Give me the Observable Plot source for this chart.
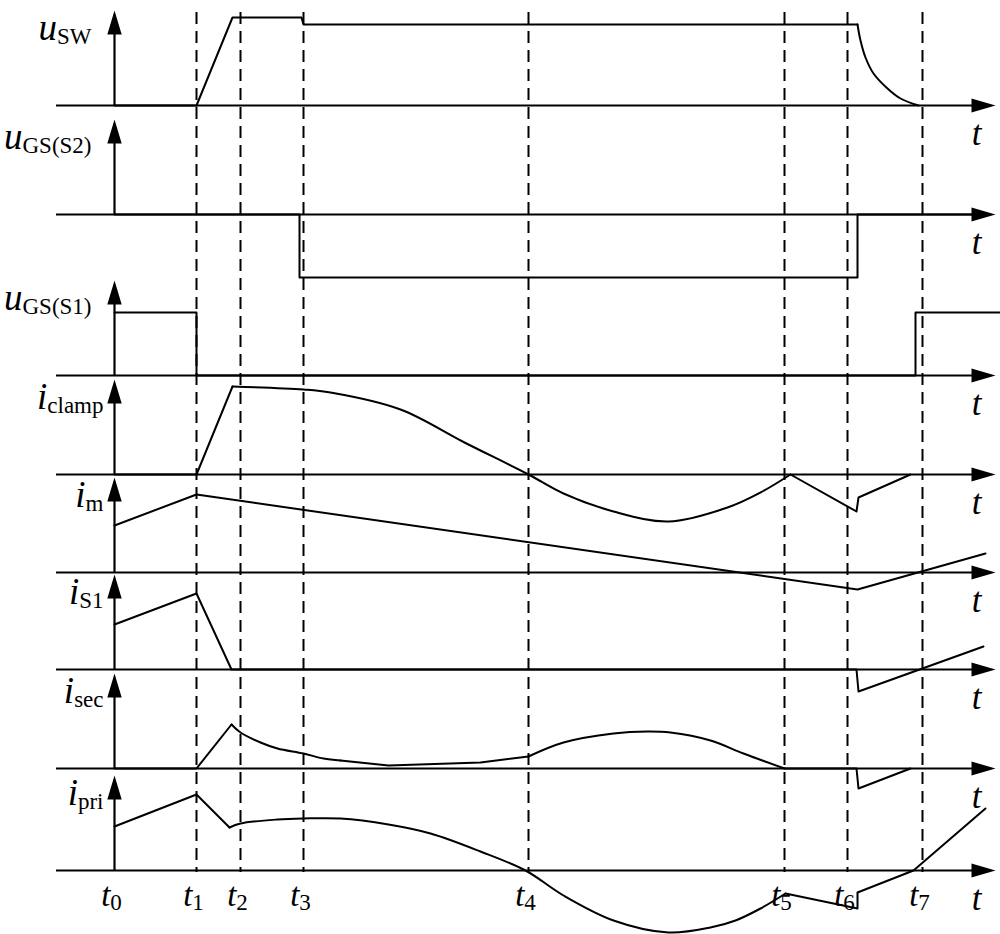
<!DOCTYPE html>
<html><head><meta charset="utf-8">
<script src="https://cdn.jsdelivr.net/npm/d3@7"></script>
<script src="https://cdn.jsdelivr.net/npm/@observablehq/plot@0.6"></script>
<style>body{margin:0;background:#fff}</style>
</head><body><div id="chart"></div>
<script>
// ---------- data (time in arbitrary units, t0 = 0; values upward positive) ----------
const tickNames = ["t_0","t_1","t_2","t_3","t_4","t_5","t_6","t_7"];
const tickTimes = [0, 8.2, 12.6, 18.9, 41.4, 67.0, 73.3, 80.8];
const panelNames = ["u_SW","u_GS(S2)","u_GS(S1)","i_clamp","i_m","i_S1","i_sec","i_pri"];

const uSW       = [[0,0],[8.2,0],[11.8,88],[18.7,88],[18.9,81],[74.3,81]];
const uSWDecay  = [[74.3,81],[74.6,65],[75.1,48],[75.9,32],[77.3,17],[78.6,7],[80.4,0]];
const uGS2      = [[0,0],[18.5,0],[18.5,-63],[74.3,-63],[74.3,0],[86,0]];
const uGS1      = [[0,63],[8.2,63],[8.2,0],[80.1,0],[80.1,63],[88.6,63]];
const iClamp      = [[0,0],[8.2,0],[11.8,88]];
const iClampCurve = [[11.8,88],[18.9,85],[21.6,82],[28.6,65],[35,32],[41.4,0],[44.9,-19],[49.9,-37],[55.4,-47],[61.3,-33],[64.6,-18],[67.6,0]];
const iClampTail  = [[67.6,0],[74.2,-37],[74.4,-23],[79.6,0]];
const iM        = [[0,47],[8.2,78],[74.3,-17],[87.1,19]];
const iS1       = [[0,45],[8.2,76],[11.7,0],[74.2,0],[74.4,-22],[86.9,23]];
const iSec      = [[0,0],[8.2,0],[11.7,44]];
const iSecDecay = [[11.7,44],[12.6,36],[14.6,26],[16.3,20],[18.9,15],[20.9,10],[22.6,8]];
const iSecMid   = [[22.6,8],[27.4,3],[36.6,6],[41.4,12]];
const iSecHump  = [[41.4,12],[44.9,26],[49.9,35],[53.3,37],[55.6,36],[59.6,28],[62.9,15],[67,0]];
const iSecTail  = [[67,0],[74.2,0],[74.4,-20],[79.6,0]];
const iPri      = [[0,44],[8.2,76],[11.5,43]];
const iPriCurve = [[11.5,43],[12.6,47],[16.3,51],[18.9,52],[22.6,52],[27.4,46],[31.6,37],[36.6,19],[41.1,0],[44.9,-25],[49.9,-50],[55.4,-62],[59.6,-57],[62.1,-50],[64.6,-38],[67.1,-23]];
const iPriTail  = [[67.1,-23],[74.3,-38],[74.3,-22],[79.9,0],[87.1,62]];

// ---------- layout ----------
const W = 1000, H = 934;
const baselines = [105, 214, 375, 474, 572, 669, 768, 870];
const axisStart = -5.8, axisEnd = 86.0, arrowTip = 88.1;
const vArrow = 95;

const straight = [
  [0, uSW], [1, uGS2], [2, uGS1], [3, iClamp], [3, iClampTail], [4, iM], [5, iS1],
  [6, iSec], [6, iSecMid], [6, iSecTail], [7, iPri], [7, iPriTail]
];
const smooth = [
  [0, uSWDecay], [3, iClampCurve], [6, iSecDecay], [6, iSecHump], [7, iPriCurve]
];
function toRows(list) {
  const rows = [];
  list.forEach(([p, arr], k) => arr.forEach(([t, v]) => rows.push({t, y: baselines[p] - v, id: k})));
  return rows;
}
const straightRows = toRows(straight);
const smoothRows = toRows(smooth);

const heads = [];
baselines.forEach((b, i) => {
  const tip = b - vArrow;
  [[-0.72, tip + 24], [0, tip], [0.72, tip + 24]].forEach(([t, y]) => heads.push({t, y, id: "v" + i}));
  [[arrowTip - 2.4, b - 7], [arrowTip, b], [arrowTip - 2.4, b + 7]].forEach(([t, y]) => heads.push({t, y, id: "h" + i}));
});

const font = "Liberation Serif, Times New Roman, serif";

const plot = Plot.plot({
  width: W, height: H,
  margin: 0, marginTop: 0, marginBottom: 0, marginLeft: 0, marginRight: 0,
  x: {domain: [-11.4, 88.6], range: [0, W], axis: null},
  y: {domain: [0, H], range: [0, H], axis: null},
  style: {background: "#fff", color: "#000"},
  marks: [
    Plot.ruleX(tickTimes.slice(1), {x: d => d, y1: 12, y2: 872, stroke: "#000", strokeWidth: 2, strokeDasharray: "12,7"}),
    Plot.ruleY(baselines, {y: d => d, x1: axisStart, x2: axisEnd, stroke: "#000", strokeWidth: 2.2}),
    Plot.ruleX(baselines, {x: 0, y1: d => d, y2: d => d - vArrow + 12, stroke: "#000", strokeWidth: 2.2}),
    Plot.line(heads, {x: "t", y: "y", z: "id", fill: "#000", stroke: "none"}),
    Plot.line(straightRows, {x: "t", y: "y", z: "id", stroke: "#000", strokeWidth: 2, strokeLinecap: "round", strokeLinejoin: "round"}),
    Plot.line(smoothRows, {x: "t", y: "y", z: "id", curve: "catmull-rom", stroke: "#000", strokeWidth: 2, strokeLinecap: "round"}),
    Plot.text(panelNames, {
      x: 0, y: (d, i) => baselines[i] - 66, text: d => d,
      textAnchor: "end", lineAnchor: "bottom",
      fontSize: 37, fontFamily: font, fontStyle: "italic", fill: "#000"
    }),
    Plot.text(baselines, {
      x: 86.2, y: d => d + 39, text: d => "t", textAnchor: "middle", lineAnchor: "bottom",
      fontSize: 35, fontFamily: font, fontStyle: "italic", fill: "#000"
    }),
    Plot.text(tickNames, {
      x: (d, i) => tickTimes[i], y: 905, text: d => d, dx: -3, textAnchor: "middle", lineAnchor: "bottom",
      fontSize: 33, fontFamily: font, fontStyle: "italic", fill: "#000"
    })
  ]
});
document.getElementById("chart").appendChild(plot);

const svgNS = "http://www.w3.org/2000/svg";
plot.querySelectorAll("text").forEach(el => {
  const s = el.textContent;
  const k = s.indexOf("_");
  if (k < 0) return;
  const main = s.slice(0, k), sub = s.slice(k + 1);
  el.textContent = "";
  const a = document.createElementNS(svgNS, "tspan");
  a.textContent = main;
  const b = document.createElementNS(svgNS, "tspan");
  b.textContent = sub;
  b.setAttribute("font-style", "normal");
  b.setAttribute("font-size", "23");
  b.setAttribute("dy", "4");
  el.appendChild(a); el.appendChild(b);
  if (main !== "t") {
    const shift = main === "u" ? -23 : -11;
    const cur = el.getAttribute("transform");
    el.setAttribute("transform", (cur || "") + ` translate(${shift},0)`);
  }
});
</script>
</body></html>
